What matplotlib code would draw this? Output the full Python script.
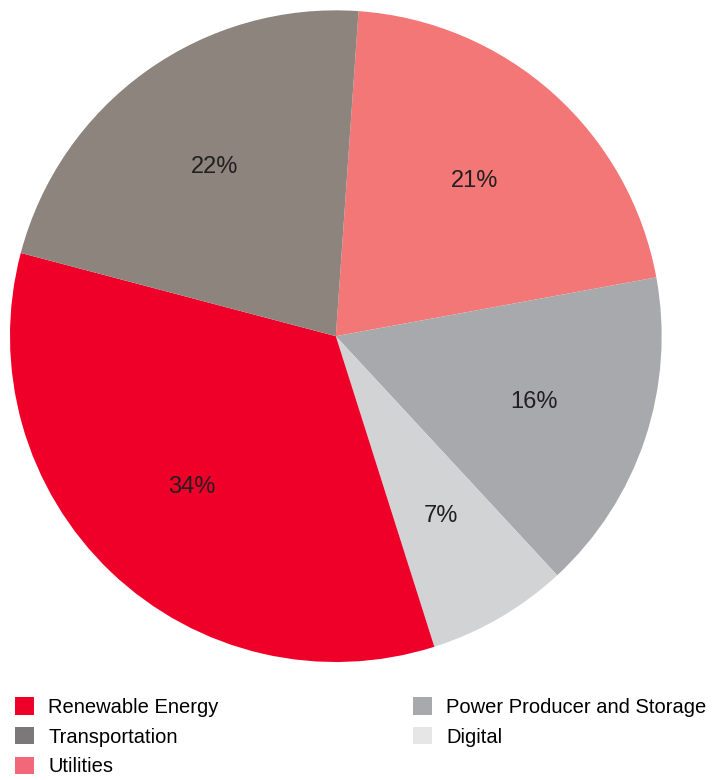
import matplotlib.pyplot as plt
from matplotlib.patches import Patch

# Share of portfolio by sector (percent)
sectors = ['Utilities', 'Power Producer and Storage', 'Digital',
           'Renewable Energy', 'Transportation']
shares = [21, 16, 7, 34, 22]
slice_colors = ['#F37776', '#A8A9AC', '#D2D3D5', '#EE0028', '#8C847D']

# Legend order and swatch colours
legend_labels = ['Renewable Energy', 'Transportation', 'Utilities',
                 'Power Producer and Storage', 'Digital']
legend_colors = ['#EE0028', '#7A7878', '#F0687A', '#A8A9AC', '#E6E6E6']

plt.rcParams['font.family'] = ['Liberation Sans', 'DejaVu Sans']

fig = plt.figure(figsize=(7.13, 7.80), dpi=100)
ax = fig.add_axes([0.014, 0.151, 0.914, 0.836])

wedges, texts, autotexts = ax.pie(
    shares, colors=slice_colors, startangle=86, counterclock=False,
    autopct=lambda p: f'{p:.0f}%', pctdistance=0.64,
    wedgeprops=dict(linewidth=0))
for t in autotexts:
    t.set_fontsize(17)
    t.set_color('#231f20')
ax.set_xlim(-1, 1)
ax.set_ylim(-1, 1)
ax.set_aspect('equal')

handles = [Patch(facecolor=c, edgecolor='none') for c in legend_colors]
fig.legend(handles, legend_labels, loc='upper left',
           bbox_to_anchor=(0.021, 0.106), ncol=2, frameon=False,
           fontsize=14.5, handlelength=0.95, handleheight=0.95,
           handletextpad=0.7, labelspacing=0.5, columnspacing=9.65,
           borderaxespad=0, borderpad=0)

fig.savefig('out.png', dpi=100)
